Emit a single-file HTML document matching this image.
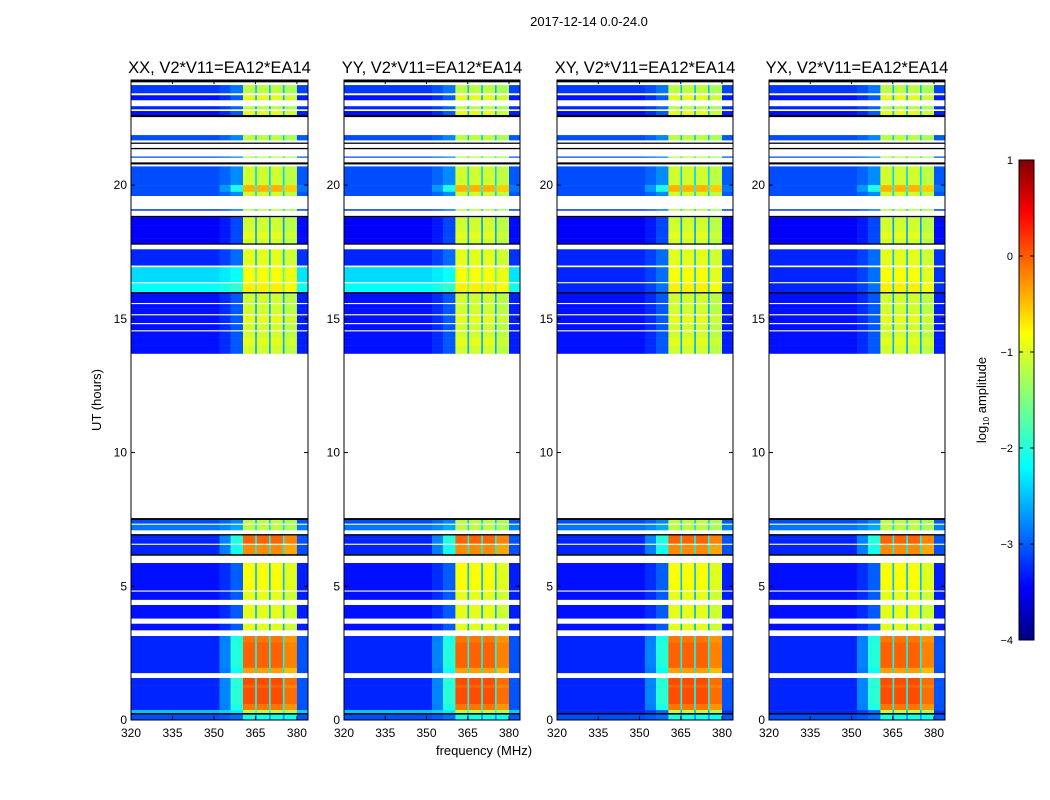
<!DOCTYPE html>
<html><head><meta charset="utf-8"><style>
body{margin:0;background:#fff;}
svg{display:block;font-family:"Liberation Sans","DejaVu Sans",sans-serif;}
</style></head><body>
<svg id="fig" width="1050" height="800" viewBox="0 0 1050 800" xmlns="http://www.w3.org/2000/svg">
<defs>
<linearGradient id="jet" x1="0" y1="1" x2="0" y2="0">
<stop offset="0" stop-color="#00007f"/><stop offset="0.11" stop-color="#0000ff"/><stop offset="0.36" stop-color="#00ffff"/><stop offset="0.5" stop-color="#7fff7f"/><stop offset="0.64" stop-color="#ffff00"/><stop offset="0.89" stop-color="#ff0000"/><stop offset="1" stop-color="#7f0000"/>
</linearGradient>
</defs>
<text x="589" y="26" font-size="13" text-anchor="middle">2017-12-14 0.0-24.0</text>
<g id="panels"></g>
<text transform="translate(101,400) rotate(-90)" font-size="13" text-anchor="middle">UT (hours)</text>
<text x="484" y="755" font-size="13" text-anchor="middle">frequency (MHz)</text>
<g id="cbar"></g>
</svg>
<script>
const panelTitles = ["XX, V2*V11=EA12*EA14","YY, V2*V11=EA12*EA14","XY, V2*V11=EA12*EA14","YX, V2*V11=EA12*EA14"];
const panelBgOffset = [0, 0, 0, 0];
const panelCyan = [1, 1, 0, 0];
// time rows: start hour, end hour, background log amp, band log amp (null = no data, -9 = black flag line)
const rowStart = [23.85,23.44,23.36,23.18,22.95,22.84,22.77,22.62,22.55,21.68,21.55,21.35,21.03,20.78,20.0,19.75,19.6,19.05,18.8,18.5,18.25,18.0,17.82,17.78,17.3,17.0,16.93,16.38,16.33,16.0,15.95,15.6,15.55,15.4,15.18,15.13,14.85,14.8,14.58,14.53,14.3,14.0,13.7,7.48,7.35,7.3,7.1,6.95,6.9,6.8,6.6,6.55,6.2,6.15,5.87,4.85,4.8,4.5,4.3,3.8,3.6,3.36,3.14,2.9,1.95,1.76,1.57,1.3,1.2,0.6,0.37,0.26,0.2,0];
const rowEnd   = [23.93,23.74,23.44,23.36,23.18,22.95,22.84,22.77,22.62,21.87,21.59,21.39,21.07,20.85,20.7,20.0,19.75,19.1,18.85,18.8,18.5,18.25,18.0,17.82,17.6,17.3,17.0,16.93,16.38,16.33,16.0,15.95,15.6,15.55,15.4,15.18,15.13,14.85,14.8,14.58,14.53,14.3,14.0,7.55,7.48,7.35,7.3,7.1,6.95,6.9,6.8,6.6,6.55,6.2,6.15,5.87,4.85,4.8,4.5,4.3,3.8,3.6,3.36,3.14,2.9,1.95,1.76,1.57,1.3,1.2,0.6,0.37,0.26,0.2];
const rowBg    = [-9,-3.1,null,-3.3,null,-3.2,null,-3.3,-9,-3.0,-9,-9,-3.0,-9,-3.0,-3.0,-3.0,-3.1,-9,-3.4,-3.4,-3.4,-3.4,-9,-3.2,-3.2,null,-2.3,null,-2.1,-9,-3.3,null,-3.3,-3.3,null,-3.3,null,-3.3,null,-3.3,-3.3,-3.3,-9,-3.0,null,-2.8,null,-9,-3.2,-3.2,null,-3.2,-9,null,-3.3,null,-3.3,null,-3.3,null,-3.3,null,-3.2,-3.2,-3.2,null,-3.2,-3.2,-3.2,-3.2,-2.4,-9,-3.0];
const rowBand  = [-9,-1.2,null,-1.0,null,-1.2,null,-1.0,-9,-1.2,-9,-9,-1.2,-9,-1.1,-0.5,-1.1,-1.2,-9,-1.1,-1.1,-1.0,-1.1,-9,-1.0,-1.0,null,-0.9,null,-0.8,-9,-1.1,null,-1.1,-1.1,null,-1.0,null,-1.1,null,-1.1,-1.0,-1.1,-9,-1.2,null,-1.2,null,-9,-0.1,-0.1,null,-0.3,-9,null,-0.9,null,-1.0,null,-1.0,null,-1.0,null,-0.2,-0.1,-0.4,null,0.0,-0.1,0.0,-0.2,-1.2,-9,-2.0];
// frequency channels (MHz) and fraction of band signal
const chanStart = [320,352,356,360.5,364.9,365.5,369.9,370.5,374.9,375.5,380];
const chanEnd   = [352,356,360.5,364.9,365.5,369.9,370.5,374.9,375.5,380,384];
const chanWeight= [0,0.06,0.16,1,0.35,1,0.35,1,0.35,0.95,0.03];
const xTicks = [320,335,350,365,380];
const yTicks = [0,5,10,15,20];
const cbTicks = [1,0,-1,-2,-3,-4];

const panelLeft=[131,344,557,769], panelW=[177,176,176,176];
const TOP=80,BOT=720,FMIN=320,FMAX=384,HMAX=23.93;
const NS="http://www.w3.org/2000/svg";
function xs(i,f){return panelLeft[i]+(f-FMIN)/(FMAX-FMIN)*panelW[i];}
function ys(h){return BOT-(h/HMAX)*(BOT-TOP);}
function jet(v){
  let t=(v+4)/5; t=Math.max(0,Math.min(1,t));
  const c=x=>Math.round(255*Math.max(0,Math.min(1,x)));
  const r=c(Math.min(4*t-1.5,-4*t+4.5)),g=c(Math.min(4*t-0.5,-4*t+3.5)),b=c(Math.min(4*t+0.5,-4*t+2.5));
  return `rgb(${r},${g},${b})`;
}
function mk(tag,attrs,parent){const e=document.createElementNS(NS,tag);for(const k in attrs)e.setAttribute(k,attrs[k]);parent.appendChild(e);return e;}
const panels=document.getElementById('panels');
for(let p=0;p<4;p++){
  const g=mk('g',{},panels);
  
  
  const t=mk('text',{x:panelLeft[p]+panelW[p]/2,y:73,'font-size':16.5,'text-anchor':'middle'},g);
  t.textContent=panelTitles[p];
  
  
  for(let r=0;r<rowStart.length;r++){
    if(rowBg[r]===null)continue;
    const y0=ys(rowEnd[r]),y1=ys(rowStart[r]);
    for(let c=0;c<chanStart.length;c++){
      let col;
      if(rowBg[r]===-9)col='#000';
      else{
        let bg=rowBg[r]+panelBgOffset[p];
        if(bg>-2.6&&bg<-2.0&&!panelCyan[p])bg=-3.2;
        let w=chanWeight[c];
        if(w<0.3&&rowBand[r]>-0.6)w=w*2.5;
        const v=bg+w*(rowBand[r]-bg);
        col=jet(v);
      }
      const x0=xs(p,chanStart[c]),x1=xs(p,chanEnd[c]);
      const rc=mk('rect',{x:x0.toFixed(2),y:y0.toFixed(2),width:(x1-x0+0.3).toFixed(2),height:(y1-y0+0.2).toFixed(2),fill:col},g);
      
      
    }
  }
  const fr=mk('rect',{x:panelLeft[p],y:TOP,width:panelW[p],height:BOT-TOP,fill:'none',stroke:'#000','stroke-width':1},g);
  
  
  for(const f of xTicks){
    const x=xs(p,f);
    mk('line',{x1:x,y1:BOT,x2:x,y2:BOT-4,stroke:'#000'},g);
    mk('line',{x1:x,y1:TOP,x2:x,y2:TOP+4,stroke:'#000'},g);
    const tl=mk('text',{x:x,y:737,'font-size':12,'text-anchor':'middle'},g);
    tl.textContent=f;
    
    
  }
  for(const h of yTicks){
    const y=ys(h);
    mk('line',{x1:panelLeft[p],y1:y,x2:panelLeft[p]+4,y2:y,stroke:'#000'},g);
    mk('line',{x1:panelLeft[p]+panelW[p],y1:y,x2:panelLeft[p]+panelW[p]-4,y2:y,stroke:'#000'},g);
    const tl=mk('text',{x:panelLeft[p]-4,y:y+4,'font-size':12,'text-anchor':'end'},g);
    tl.textContent=h;
    
    
  }
}
const cb=document.getElementById('cbar');
const CT=160,CB=640,CX=1019,CW=15;
const cr=mk('rect',{x:CX,y:CT,width:CW,height:CB-CT,fill:'url(#jet)',stroke:'#000','stroke-width':1},cb);


for(const v of cbTicks){
  const y=CB-(v+4)/5*(CB-CT);
  mk('line',{x1:CX,y1:y,x2:CX+4,y2:y,stroke:'#000'},cb);
  mk('line',{x1:CX+CW,y1:y,x2:CX+CW-4,y2:y,stroke:'#000'},cb);
  const tl=mk('text',{x:1013,y:y+4,'font-size':11,'text-anchor':'end'},cb);
  tl.textContent=(v<0?'\u2212'+(-v):v);
  
  
}
const cl=mk('text',{transform:'translate(986,400) rotate(-90)','font-size':13,'text-anchor':'middle'},cb);
cl.innerHTML='log<tspan font-size="8" dy="3">10</tspan><tspan dy="-3"> amplitude</tspan>';


</script>
</body></html>
